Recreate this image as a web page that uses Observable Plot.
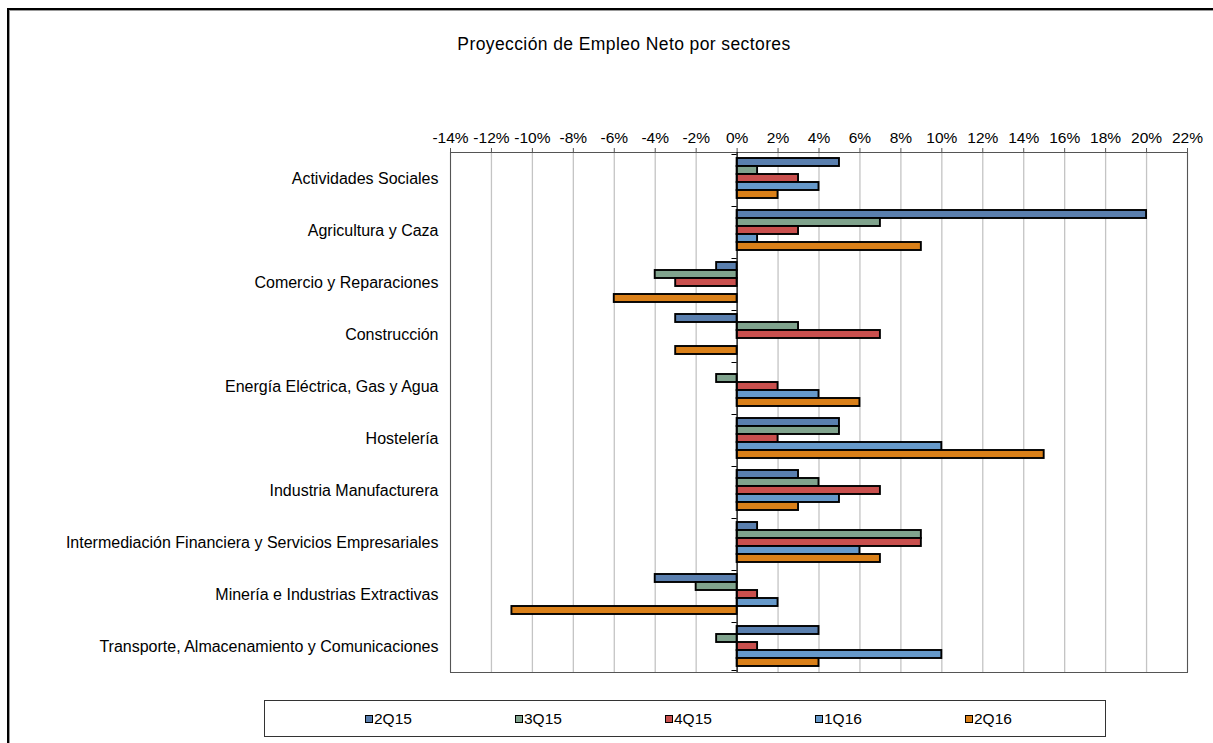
<!DOCTYPE html>
<html>
<head>
<meta charset="utf-8">
<script src="https://cdn.jsdelivr.net/npm/d3@7"></script>
<script src="https://cdn.jsdelivr.net/npm/@observablehq/plot@0.6"></script>
<style>
  html, body { margin: 0; padding: 0; background: #fff; }
  body { width: 1213px; height: 743px; position: relative; overflow: hidden; font-family: "Liberation Sans", Arial, sans-serif; }
  #outer { position: absolute; left: 7px; top: 8px; width: 1400px; height: 900px; border-left: 2px solid #000; border-top: 2px solid #000; box-shadow: inset 1px 1px 0 #999; }
  #title { position: absolute; left: 274px; width: 700px; top: 34px; text-align: center; font-size: 17.5px; letter-spacing: 0.4px; color: #000; }
  #chart { position: absolute; left: 0; top: 0; }
  #legend { position: absolute; left: 264px; top: 700px; width: 840px; height: 35px; border: 1px solid #333; background: #fff; }
  .item { position: absolute; top: 9px; font-size: 15.5px; color: #000; display: flex; align-items: center; }
  .sw { width: 6px; height: 6px; border: 1.5px solid #000; margin-right: 1px; }
</style>
</head>
<body>
<div id="outer"></div>
<div id="title">Proyección de Empleo Neto por sectores</div>
<div id="chart"></div>
<div id="legend"></div>
<script>
const sectors = [
  "Actividades Sociales",
  "Agricultura y Caza",
  "Comercio y Reparaciones",
  "Construcción",
  "Energía Eléctrica, Gas y Agua",
  "Hostelería",
  "Industria Manufacturera",
  "Intermediación Financiera y Servicios Empresariales",
  "Minería e Industrias Extractivas",
  "Transporte, Almacenamiento y Comunicaciones"
];
const series = ["2Q15", "3Q15", "4Q15", "1Q16", "2Q16"];
const colors = ["#5a7fae", "#80a38d", "#c9504e", "#6699ca", "#da8019"];
const v2Q15 = [5, 20, -1, -3, 0, 5, 3, 1, -4, 4];
const v3Q15 = [1, 7, -4, 3, -1, 5, 4, 9, -2, -1];
const v4Q15 = [3, 3, -3, 7, 2, 2, 7, 9, 1, 1];
const v1Q16 = [4, 1, 0, 0, 4, 10, 5, 6, 2, 10];
const v2Q16 = [2, 9, -6, -3, 6, 15, 3, 7, -11, 4];
const xTicks = [-14, -12, -10, -8, -6, -4, -2, 0, 2, 4, 6, 8, 10, 12, 14, 16, 18, 20, 22];

const valuesBySeries = [v2Q15, v3Q15, v4Q15, v1Q16, v2Q16];
const data = [];
sectors.forEach((s, i) => {
  series.forEach((k, j) => {
    data.push({sector: s, series: k, value: valuesBySeries[j][i]});
  });
});
const barData = data.filter(d => d.value !== 0);
const topBoundaries = sectors.map(s => ({sector: s, series: series[0]}));
const bottomBoundary = [{sector: sectors[sectors.length - 1], series: series[series.length - 1]}];

const chart = Plot.plot({
  width: 1213,
  height: 690,
  marginLeft: 450,
  marginRight: 26,
  marginTop: 152,
  marginBottom: 18,
  style: {fontFamily: "'Liberation Sans', Arial, sans-serif", fontSize: "14px", color: "#000", background: "transparent"},
  x: {domain: [-14, 22], axis: null},
  y: {domain: series, axis: null, paddingInner: 0, paddingOuter: 0.39},
  fy: {domain: sectors, paddingInner: 0, paddingOuter: 0},
  color: {domain: series, range: colors},
  marks: [
    Plot.gridX(xTicks, {stroke: "#c4c4c4", strokeOpacity: 1, strokeWidth: 1.3}),
    Plot.frame({stroke: "#555", facet: "super"}),
    Plot.axisX(xTicks, {anchor: "top", label: null, tickSize: 5, tickPadding: 5, tickFormat: d => d + "%", fontSize: 15.5, stroke: "#555"}),
    Plot.axisFy({anchor: "left", tickSize: 0, tickPadding: 12, label: null, fontSize: 16}),
    Plot.barX(barData, {fy: "sector", y: "series", x: "value", fill: "series", stroke: "#000", strokeWidth: 1.9}),
    Plot.ruleX([0], {stroke: "#000", strokeWidth: 1.2}),
    Plot.ruleY(topBoundaries, {fy: "sector", y: "series", x1: 0, x2: -0.25, stroke: "#000", dy: -8}),
    Plot.ruleY(bottomBoundary, {fy: "sector", y: "series", x1: 0, x2: -0.25, stroke: "#000", dy: 8})
  ]
});
document.getElementById("chart").appendChild(chart);

const legend = document.getElementById("legend");
series.forEach((k, j) => {
  const it = document.createElement("div");
  it.className = "item";
  it.style.left = (100 + j * 150) + "px";
  const sw = document.createElement("span");
  sw.className = "sw";
  sw.style.background = colors[j];
  const t = document.createElement("span");
  t.textContent = k;
  it.appendChild(sw);
  it.appendChild(t);
  legend.appendChild(it);
});
</script>
</body>
</html>
